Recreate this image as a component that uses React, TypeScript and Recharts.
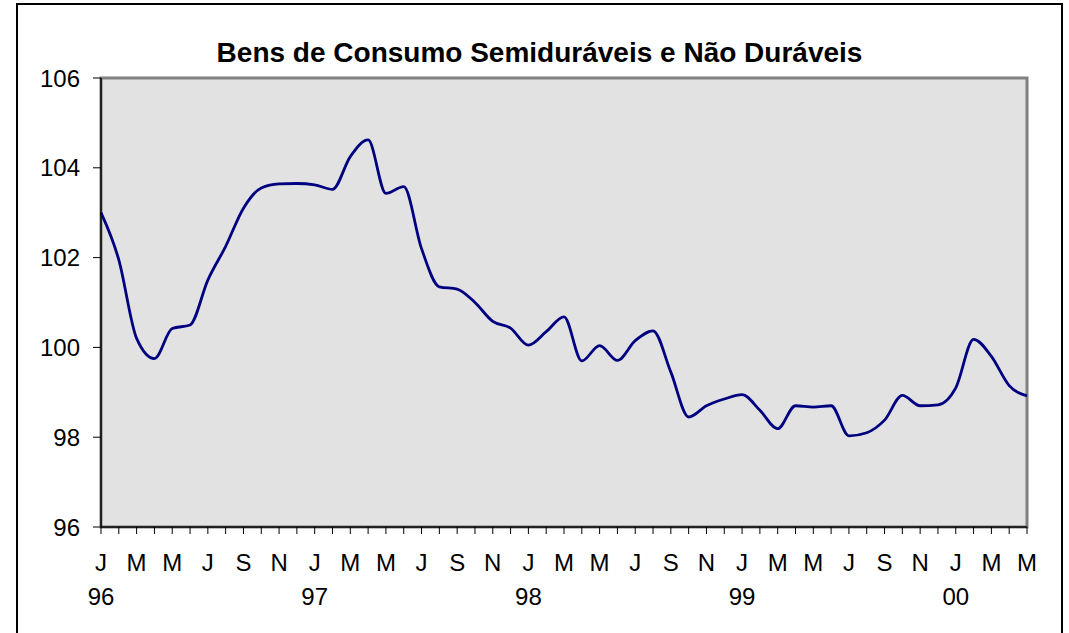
import React from "react";
import { LineChart, Line, XAxis, YAxis, ReferenceArea } from "recharts";

const monthLetters = ["J", "F", "M", "A", "M", "J", "J", "A", "S", "O", "N", "D"];
const years = ["96", "97", "98", "99", "00"];

// monthly index, Jan 96 .. May 00
const values = [
  103.0, 101.95, 100.2, 99.75, 100.42, 100.5, 101.5, 102.25, 103.1, 103.55, 103.64, 103.65,
  103.62, 103.52, 104.25, 104.62, 103.43, 103.58, 102.2, 101.35, 101.3, 101.0, 100.58, 100.43,
  100.05, 100.35, 100.68, 99.7, 100.04, 99.71, 100.15, 100.37, 99.45, 98.45, 98.7, 98.85,
  98.95, 98.6, 98.19, 98.7, 98.67, 98.7, 98.03, 98.1, 98.38, 98.93, 98.7, 98.72,
  99.1, 100.18, 99.8, 99.15, 98.92,
];

const yTicks = [96, 98, 100, 102, 104, 106];

const data = values.map((v, i) => ({
  month: `${years[Math.floor(i / 12)]}-${(i % 12) + 1}`,
  value: v,
}));

const font = "Arial, 'Liberation Sans', sans-serif";

const MonthTick = (props: any) => {
  const { x, y, index } = props;
  if (index % 2 !== 0) return <g />;
  return (
    <g>
      <text x={x} y={y + 35} textAnchor="middle" fontSize={24} fill="#000" fontFamily={font}>
        {monthLetters[index % 12]}
      </text>
      {index % 12 === 0 && (
        <text x={x} y={y + 69} textAnchor="middle" fontSize={24} fill="#000" fontFamily={font}>
          {years[index / 12]}
        </text>
      )}
    </g>
  );
};

export default function App() {
  return (
    <div
      style={{
        position: "absolute",
        left: 16,
        top: 3,
        width: 1047,
        height: 660,
        border: "2px solid #000",
        boxSizing: "border-box",
        background: "#fff",
        fontFamily: font,
      }}
    >
      <div
        style={{
          position: "absolute",
          top: 32,
          left: 0,
          width: "100%",
          textAlign: "center",
          fontWeight: "bold",
          fontSize: 28,
          lineHeight: "32px",
          color: "#000",
        }}
      >
        Bens de Consumo Semiduráveis e Não Duráveis
      </div>
      <LineChart
        width={1043}
        height={628}
        data={data}
        margin={{ top: 73, right: 34, left: 0, bottom: 46 }}
      >
        <ReferenceArea
          x1={data[0].month}
          x2={data[data.length - 1].month}
          y1={96}
          y2={106}
          fill="#e2e2e2"
          fillOpacity={1}
          stroke="#808080"
          strokeWidth={3}
          ifOverflow="visible"
        />
        <XAxis
          dataKey="month"
          interval={0}
          height={60}
          tickSize={7}
          tickMargin={2}
          axisLine={{ stroke: "#000", strokeWidth: 1.5 }}
          tickLine={{ stroke: "#000", strokeWidth: 1 }}
          tick={<MonthTick />}
        />
        <YAxis
          domain={[96, 106]}
          ticks={yTicks}
          width={83}
          tickSize={8}
          tickMargin={13}
          axisLine={{ stroke: "#000", strokeWidth: 1.5 }}
          tickLine={{ stroke: "#000", strokeWidth: 1 }}
          tick={{ fill: "#000", fontSize: 24, fontFamily: font }}
        />
        <Line
          type="monotone"
          dataKey="value"
          stroke="#000080"
          strokeWidth={2.8}
          dot={false}
          isAnimationActive={false}
        />
      </LineChart>
    </div>
  );
}
